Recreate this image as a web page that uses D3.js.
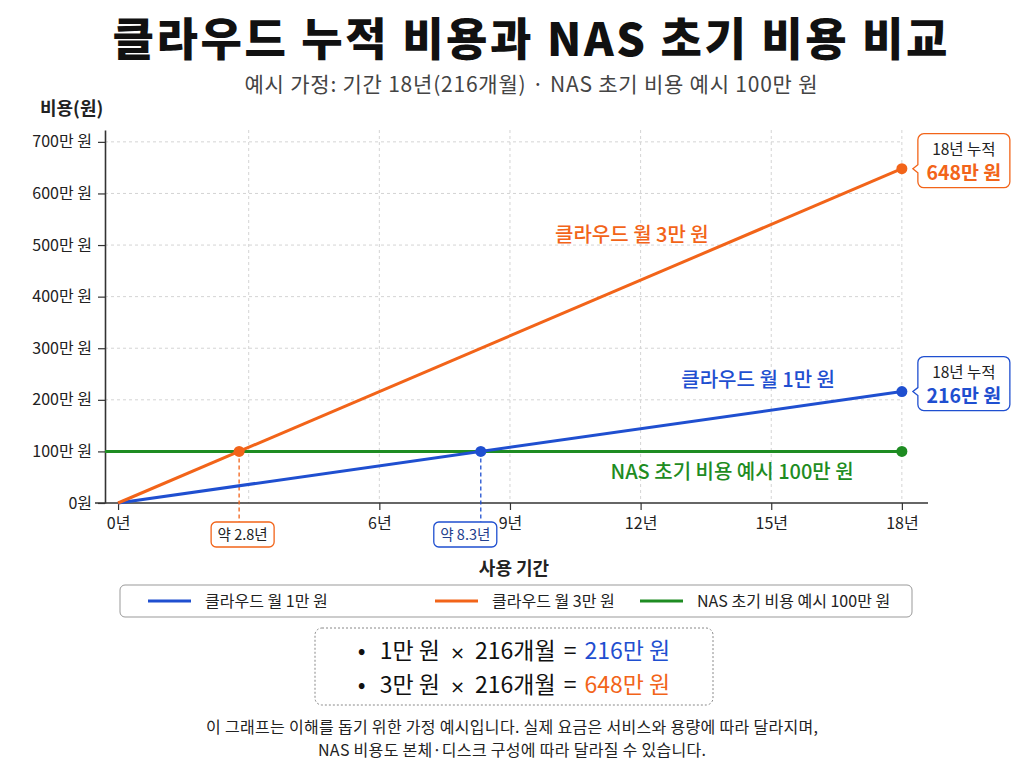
<!DOCTYPE html>
<html>
<head>
<meta charset="utf-8">
<script src="https://cdn.jsdelivr.net/npm/d3@7"></script>
<style>
	body { margin: 0; background: #fff; }
	svg { display: block; font-family: "Noto Sans CJK KR", "Noto Sans", sans-serif; }
</style>
</head>
<body>
<svg id="chart" width="1024" height="768"></svg>
<script>
// 데이터 (단위: 만 원, 년)
var years = [0, 18];
var cloud1 = [0, 216];
var cloud3 = [0, 648];
var nasCost = [100, 100];
var seriesNames = ['클라우드 월 1만 원', '클라우드 월 3만 원', 'NAS 초기 비용 예시 100만 원'];
var breakEvenYears = [8.33, 2.78];
var breakEvenLabels = ['약 8.3년', '약 2.8년'];
var totals = [216, 648];
var xTicks = [0, 6, 9, 12, 15, 18];
var xGrid = [3, 6, 9, 12, 15, 18];
var yTicks = [0, 100, 200, 300, 400, 500, 600, 700];
var formulas = [
	['1만 원', '216개월', '216만 원'],
	['3만 원', '216개월', '648만 원']
];
var footnote = [
	'이 그래프는 이해를 돕기 위한 가정 예시입니다. 실제 요금은 서비스와 용량에 따라 달라지며,',
	'NAS 비용도 본체·디스크 구성에 따라 달라질 수 있습니다.'
];

var colors = ['#1f4fd0', '#f26419', '#1e8c22'];

var svg = d3.select('#chart');

var x = d3.scaleLinear().domain([-0.3, 18.6]).range([105, 928]);
var y = d3.scaleLinear().domain([0, 723]).range([503, 130]);

// 제목
svg.append('text')
	.attr('x', 530).attr('y', 56)
	.attr('text-anchor', 'middle')
	.attr('font-size', 45).attr('font-weight', 900)
	.attr('fill', '#111')
	.attr('textLength', 835)
	.text('클라우드 누적 비용과 NAS 초기 비용 비교');

svg.append('text')
	.attr('x', 531).attr('y', 92)
	.attr('text-anchor', 'middle')
	.attr('font-size', 21)
	.attr('fill', '#444')
	.attr('textLength', 573)
	.text('예시 가정: 기간 18년(216개월) · NAS 초기 비용 예시 100만 원');

svg.append('text')
	.attr('x', 40).attr('y', 115)
	.attr('font-size', 18).attr('font-weight', 700)
	.attr('fill', '#222')
	.text('비용(원)');

// 그리드
var grid = svg.append('g')
	.attr('stroke', '#d4d4d4')
	.attr('stroke-dasharray', '3,3')
	.attr('stroke-width', 1);

grid.selectAll('.gy')
	.data(yTicks.slice(1))
	.enter().append('line')
	.attr('x1', x.range()[0]).attr('x2', x(18))
	.attr('y1', function(d) { return y(d); })
	.attr('y2', function(d) { return y(d); });

grid.selectAll('.gx')
	.data(xGrid)
	.enter().append('line')
	.attr('x1', function(d) { return x(d); })
	.attr('x2', function(d) { return x(d); })
	.attr('y1', y.range()[1]).attr('y2', y(0));

// 축
var yAxis = d3.axisLeft(y)
	.tickValues(yTicks)
	.tickSize(7)
	.tickPadding(6)
	.tickSizeOuter(0)
	.tickFormat(function(d) { return d === 0 ? '0원' : d + '만 원'; });

var xAxis = d3.axisBottom(x)
	.tickValues(xTicks)
	.tickSize(7)
	.tickPadding(8)
	.tickSizeOuter(0)
	.tickFormat(function(d) { return d + '년'; });

var gy = svg.append('g')
	.attr('transform', 'translate(' + x.range()[0] + ',0)')
	.call(yAxis);

var gx = svg.append('g')
	.attr('transform', 'translate(0,' + y(0) + ')')
	.call(xAxis);

[gx, gy].forEach(function(g) {
	g.select('.domain').attr('stroke', '#333').attr('stroke-width', 1.6);
	g.selectAll('.tick line').attr('stroke', '#333').attr('stroke-width', 1.2);
	g.selectAll('.tick text')
		.attr('font-size', 16)
		.attr('fill', '#222')
		.attr('font-family', '"Noto Sans CJK KR", sans-serif');
});
gx.select('.domain').attr('d', 'M' + (x.range()[0] - 10) + ',0H' + x.range()[1]);

svg.append('text')
	.attr('x', 514).attr('y', 575)
	.attr('text-anchor', 'middle')
	.attr('font-size', 18).attr('font-weight', 700)
	.attr('fill', '#222')
	.text('사용 기간');

// 선
var line = d3.line()
	.x(function(d) { return x(d[0]); })
	.y(function(d) { return y(d[1]); });

var nasYears = [x.domain()[0], 18];
var seriesData = [
	d3.zip(years, cloud1),
	d3.zip(years, cloud3),
	d3.zip(nasYears, nasCost)
];

// 손익분기 점선
breakEvenYears.forEach(function(t, i) {
	svg.append('line')
		.attr('x1', x(t)).attr('x2', x(t))
		.attr('y1', y(nasCost[0])).attr('y2', 522)
		.attr('stroke', colors[i])
		.attr('stroke-width', 1.3)
		.attr('stroke-dasharray', '4,3');
});

[2, 0, 1].forEach(function(i) {
	svg.append('path')
		.datum(seriesData[i])
		.attr('d', line)
		.attr('fill', 'none')
		.attr('stroke', colors[i])
		.attr('stroke-width', 3);
});

// 점
var dots = [
	[18, cloud1[1], colors[0]],
	[18, cloud3[1], colors[1]],
	[18, nasCost[1], colors[2]],
	[breakEvenYears[1], nasCost[0], colors[1]],
	[breakEvenYears[0], nasCost[0], colors[0]]
];
svg.selectAll('.dot')
	.data(dots)
	.enter().append('circle')
	.attr('cx', function(d) { return x(d[0]); })
	.attr('cy', function(d) { return y(d[1]); })
	.attr('r', 5.5)
	.attr('fill', function(d) { return d[2]; });

// 손익분기 라벨 (8.3년 상자는 9년 눈금과 겹치지 않게 왼쪽으로 약간 이동)
var beTextColors = ['#23408e', '#222'];
var beShift = [-15, 4];
breakEvenYears.forEach(function(t, i) {
	var g = svg.append('g').attr('transform', 'translate(' + (x(t) + beShift[i]) + ',522)');
	g.append('rect')
		.attr('x', -32).attr('y', 0)
		.attr('width', 63).attr('height', 25)
		.attr('rx', 5)
		.attr('fill', '#fff')
		.attr('stroke', colors[i])
		.attr('stroke-width', 1.3);
	g.append('text')
		.attr('x', -0.5).attr('y', 18)
		.attr('text-anchor', 'middle')
		.attr('font-size', 14.5)
		.attr('fill', beTextColors[i])
		.text(breakEvenLabels[i]);
});

// 선 라벨
var lineLabels = [
	{ t: 14.7, v: 238, i: 0 },
	{ t: 11.8, v: 520, i: 1 },
	{ t: 14.1, v: 60, i: 2 }
];
lineLabels.forEach(function(d) {
	svg.append('text')
		.attr('x', x(d.t)).attr('y', y(d.v) + 7)
		.attr('text-anchor', 'middle')
		.attr('font-size', 20).attr('font-weight', 500)
		.attr('fill', colors[d.i])
		.text(seriesNames[d.i]);
});

// 18년 누적 콜아웃
function calloutPath(x0, y0, w, h, r, ny) {
	return 'M' + (x0 + r) + ',' + y0 +
		'H' + (x0 + w - r) + 'A' + r + ',' + r + ' 0 0 1 ' + (x0 + w) + ',' + (y0 + r) +
		'V' + (y0 + h - r) + 'A' + r + ',' + r + ' 0 0 1 ' + (x0 + w - r) + ',' + (y0 + h) +
		'H' + (x0 + r) + 'A' + r + ',' + r + ' 0 0 1 ' + x0 + ',' + (y0 + h - r) +
		'V' + (ny + 4) + 'L' + (x0 - 5) + ',' + ny + 'L' + x0 + ',' + (ny - 4) +
		'V' + (y0 + r) + 'A' + r + ',' + r + ' 0 0 1 ' + (x0 + r) + ',' + y0 + 'Z';
}
totals.forEach(function(v, i) {
	var ny = y(v);
	var x0 = x(18) + 16, w = 92, h = 54, y0 = ny - 35;
	svg.append('path')
		.attr('d', calloutPath(x0, y0, w, h, 6, ny))
		.attr('fill', '#fff')
		.attr('stroke', colors[i])
		.attr('stroke-width', 1.3);
	svg.append('text')
		.attr('x', x0 + w / 2).attr('y', y0 + 21)
		.attr('text-anchor', 'middle')
		.attr('font-size', 15.5)
		.attr('fill', '#222')
		.text('18년 누적');
	svg.append('text')
		.attr('x', x0 + w / 2).attr('y', y0 + 46)
		.attr('text-anchor', 'middle')
		.attr('font-size', 19.5).attr('font-weight', 700)
		.attr('fill', colors[i])
		.text(v + '만 원');
});

// 범례
var legend = svg.append('g').attr('transform', 'translate(120,585)');
legend.append('rect')
	.attr('width', 792).attr('height', 32)
	.attr('rx', 5)
	.attr('fill', '#fff')
	.attr('stroke', '#999')
	.attr('stroke-width', 1);
var legendX = [28, 315, 520];
seriesNames.forEach(function(name, i) {
	var g = legend.append('g').attr('transform', 'translate(' + legendX[i] + ',16)');
	g.append('line')
		.attr('x1', 0).attr('x2', 43)
		.attr('stroke', colors[i])
		.attr('stroke-width', 3);
	g.append('text')
		.attr('x', 57).attr('y', 5.5)
		.attr('font-size', 16)
		.attr('fill', '#222')
		.text(name);
});

// 계산식 박스
var fbox = svg.append('g').attr('transform', 'translate(315,628)');
fbox.append('rect')
	.attr('width', 398).attr('height', 77)
	.attr('rx', 7)
	.attr('fill', '#fff')
	.attr('stroke', '#888')
	.attr('stroke-width', 1)
	.attr('stroke-dasharray', '2,2');
formulas.forEach(function(f, i) {
	var t = fbox.append('text')
		.attr('x', 199).attr('y', 31 + i * 34)
		.attr('text-anchor', 'middle')
		.attr('font-size', 23)
		.attr('fill', '#111');
	t.append('tspan').text('•');
	t.append('tspan').attr('dx', 14).text(f[0]);
	t.append('tspan').attr('dx', 10)
		.attr('font-family', '"DejaVu Sans", sans-serif').attr('font-size', 18).text('×');
	t.append('tspan').attr('dx', 10).text(f[1]);
	t.append('tspan').attr('dx', 8).text('=');
	t.append('tspan').attr('dx', 8).attr('fill', colors[i]).text(f[2]);
});

// 각주
var footLen = [612, 388];
footnote.forEach(function(s, i) {
	svg.append('text')
		.attr('x', 512).attr('y', 733 + i * 23)
		.attr('text-anchor', 'middle')
		.attr('font-size', 16)
		.attr('fill', '#222')
		.attr('textLength', footLen[i])
		.text(s);
});
</script>
</body>
</html>
